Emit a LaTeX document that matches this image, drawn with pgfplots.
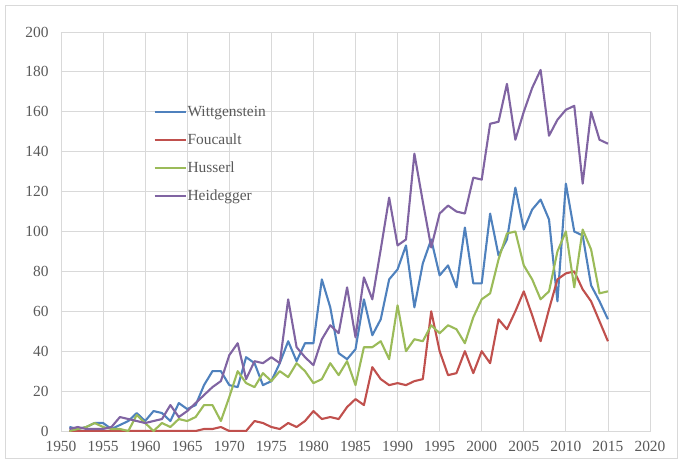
\documentclass[border=0pt]{standalone}
\usepackage{pgfplots}
\pgfplotsset{compat=1.18}
\usepackage{pgfplotstable}
\usepackage{fontspec}
\setmainfont{Liberation Serif}
\definecolor{cW}{HTML}{4F81BD}
\definecolor{cF}{HTML}{C0504D}
\definecolor{cH}{HTML}{9BBB59}
\definecolor{cD}{HTML}{8064A2}
\definecolor{gridc}{HTML}{D9D9D9}
\definecolor{txt}{HTML}{595959}

\pgfplotstableread{
year W F H D
1951 2 0 0 1
1952 1 0 1 2
1953 2 0 2 1
1954 4 0 4 1
1955 4 0 2 1
1956 1 0 1 2
1957 3 0 1 7
1958 5 0 0 6
1959 9 0 8 5
1960 5 0 4 4
1961 10 0 0 5
1962 9 0 4 6
1963 5 0 2 13
1964 14 0 6 7
1965 11 0 5 10
1966 13 0 7 14
1967 23 1 13 18
1968 30 1 13 22
1969 30 2 5 25
1970 23 0 17 38
1971 22 0 30 44
1972 37 0 24 26
1973 34 5 22 35
1974 23 4 29 34
1975 25 2 25 37
1976 34 1 30 34
1977 45 4 27 66
1978 35 2 34 42
1979 44 5 30 37
1980 44 10 24 33
1981 76 6 26 46
1982 62 7 34 53
1983 39 6 28 49
1984 36 12 35 72
1985 41 16 23 47
1986 66 13 42 77
1987 48 32 42 66
1988 56 26 45 91
1989 76 23 36 117
1990 81 24 63 93
1991 93 23 40 96
1992 62 25 46 139
1993 84 26 45 115
1994 96 60 53 92
1995 78 40 49 109
1996 83 28 53 113
1997 72 29 51 110
1998 102 40 44 109
1999 74 29 57 127
2000 74 40 66 126
2001 109 34 69 154
2002 88 56 86 155
2003 96 51 99 174
2004 122 60 100 146
2005 101 70 83 160
2006 111 58 76 172
2007 116 45 66 181
2008 106 61 70 148
2009 65 76 90 156
2010 124 79 100 161
2011 100 80 72 163
2012 98 71 101 124
2013 73 65 91 160
2014 65 55 69 146
2015 56 45 70 144
}\data

\begin{document}
\fontsize{15.5}{18}\selectfont
\begin{tikzpicture}
\useasboundingbox (-61bp,-31bp) rectangle (621bp,431bp);
\draw[gridc, line width=0.8bp] (-56bp,-27bp) rectangle (616bp,426bp);
\begin{axis}[
  at={(0,0)}, anchor=south west,
  scale only axis,
  width=589bp, height=399bp,
  xmin=1950, xmax=2020, ymin=0, ymax=200,
  xtick={1950,1955,...,2020}, ytick={0,20,...,200},
  grid=major,
  major grid style={gridc, line width=0.8bp},
  axis line style={gridc, line width=0.8bp},
  major tick length=0pt,
  tick label style={text=txt, font=\fontsize{15.5}{18}\selectfont},
  yticklabel style={xshift=-7bp},
  xticklabel style={yshift=-5bp},
  /pgf/number format/assume math mode=true,
  /pgf/number format/1000 sep={},
  legend cell align=left,
  legend style={at={(0.152,0.825)}, anchor=north west, draw=none, fill=none,
    font=\fontsize{15.5}{18}\selectfont, text=txt,
    row sep=12bp,
    nodes={inner sep=1bp, text height=11bp, text depth=3bp}},
  legend image code/.code={\draw[#1, line width=1.8bp] (0bp,0bp) -- (31bp,0bp);},
  every axis plot/.append style={line width=2.1bp, line join=round, mark=none},
]
\addplot[cW] table[x=year, y=W] {\data};
\addlegendentry{Wittgenstein}
\addplot[cF] table[x=year, y=F] {\data};
\addlegendentry{Foucault}
\addplot[cH] table[x=year, y=H] {\data};
\addlegendentry{Husserl}
\addplot[cD] table[x=year, y=D] {\data};
\addlegendentry{Heidegger}
\end{axis}
\end{tikzpicture}
\end{document}
